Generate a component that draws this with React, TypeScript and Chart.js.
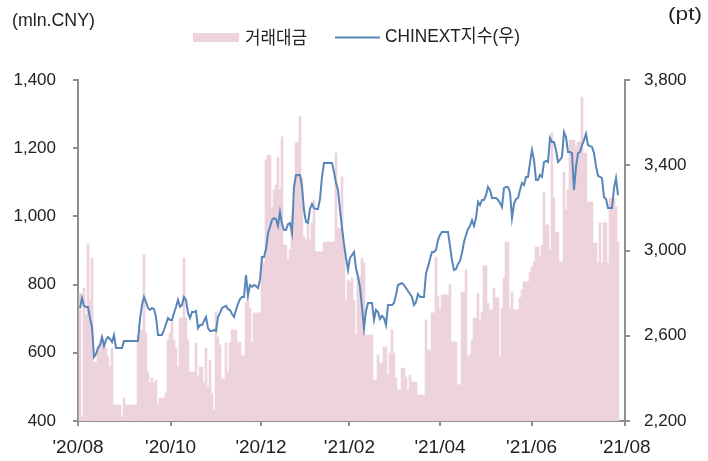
import React, { useEffect, useRef } from "react";
import { Chart, registerables } from "chart.js";

Chart.register(...registerables);

// Daily trading value (mln. CNY), left axis
const turnover: number[] = [
  775, 412, 790, 711, 919, 755, 878, 573, 573, 617,
  623, 646, 623, 614, 588, 558, 614, 447, 447, 447,
  447, 412, 467, 447, 447, 447, 447, 447, 447, 652,
  667, 667, 887, 658, 544, 511, 526, 511, 520, 447,
  467, 467, 467, 482, 638, 658, 696, 638, 614, 558,
  702, 702, 878, 702, 638, 544, 544, 544, 629, 529,
  558, 558, 511, 614, 500, 579, 482, 432, 720, 646,
  623, 523, 523, 629, 544, 629, 667, 667, 667, 629,
  632, 591, 591, 746, 778, 731, 632, 717, 717, 717,
  717, 881, 863, 1166, 1180, 1180, 1025, 1078, 1092, 1174,
  1078, 1233, 916, 916, 872, 902, 1004, 1048, 1215, 1218,
  1292, 1113, 940, 931, 975, 931, 981, 1048, 896, 896,
  896, 896, 925, 925, 925, 925, 925, 925, 1186, 966,
  966, 1116, 916, 755, 814, 808, 819, 755, 652, 822,
  822, 878, 863, 652, 652, 652, 652, 520, 520, 594,
  570, 570, 617, 617, 535, 599, 667, 599, 526, 491,
  491, 555, 555, 529, 491, 535, 514, 514, 514, 476,
  476, 476, 476, 696, 608, 608, 717, 717, 881, 764,
  726, 770, 770, 770, 770, 799, 632, 632, 632, 506,
  506, 778, 778, 843, 588, 594, 638, 702, 702, 775,
  696, 720, 855, 855, 746, 726, 726, 790, 761, 761,
  588, 731, 819, 925, 925, 731, 778, 726, 726, 726,
  761, 784, 808, 808, 808, 837, 852, 866, 910, 910,
  881, 916, 1069, 975, 975, 902, 1245, 1054, 954, 954,
  866, 866, 1130, 1019, 1078, 1224, 1224, 1224, 1204, 1218,
  1218, 1350, 1186, 1186, 1042, 1042, 1042, 922, 922, 863,
  981, 863, 981, 981, 863, 1054, 1054, 1054, 1028, 925,
];

// CHINEXT index (pt), right axis
const chinext: number[] = [
  2730, 2777, 2740, 2735, 2735, 2683, 2641, 2500, 2514, 2543,
  2557, 2594, 2552, 2580, 2594, 2585, 2571, 2603, 2543, 2543,
  2543, 2543, 2575, 2575, 2575, 2575, 2575, 2575, 2575, 2575,
  2679, 2744, 2782, 2758, 2730, 2721, 2730, 2725, 2688, 2603,
  2603, 2603, 2627, 2655, 2683, 2674, 2674, 2707, 2735, 2768,
  2735, 2744, 2782, 2768, 2707, 2683, 2711, 2711, 2716, 2636,
  2650, 2650, 2669, 2688, 2636, 2622, 2622, 2627, 2622, 2688,
  2707, 2730, 2735, 2740, 2725, 2721, 2702, 2688, 2721, 2749,
  2772, 2782, 2782, 2885, 2791, 2838, 2829, 2838, 2833, 2824,
  2862, 2969, 2969, 3007, 3082, 3110, 3143, 3152, 3148, 3115,
  3181, 3124, 3096, 3096, 3124, 3129, 3082, 3298, 3354, 3354,
  3354, 3298, 3190, 3134, 3129, 3195, 3218, 3199, 3195, 3195,
  3242, 3345, 3411, 3411, 3411, 3411, 3411, 3368, 3317, 3284,
  3190, 3106, 3030, 2965, 2908, 2965, 2979, 2993, 2918, 2876,
  2829, 2735, 2636, 2716, 2754, 2754, 2754, 2674, 2721, 2711,
  2679, 2693, 2683, 2650, 2744, 2744, 2744, 2754, 2791, 2838,
  2843, 2847, 2838, 2824, 2810, 2796, 2782, 2744, 2758, 2796,
  2782, 2782, 2782, 2894, 2923, 2960, 2993, 2993, 3002, 3049,
  3073, 3087, 3087, 3087, 3087, 3021, 2955, 2908, 2913, 2937,
  2951, 2988, 3040, 3073, 3101, 3115, 3143, 3115, 3152, 3228,
  3213, 3237, 3237, 3260, 3298, 3284, 3246, 3246, 3246, 3237,
  3223, 3204, 3293, 3298, 3298, 3274, 3152, 3218, 3242, 3246,
  3284, 3317, 3307, 3345, 3345, 3411, 3472, 3425, 3331, 3331,
  3354, 3345, 3415, 3420, 3415, 3528, 3509, 3509, 3472, 3415,
  3425, 3439, 3556, 3533, 3462, 3462, 3457, 3284, 3392, 3457,
  3462, 3495, 3518, 3547, 3495, 3490, 3486, 3457, 3396, 3350,
  3345, 3340, 3251, 3242, 3199, 3199, 3199, 3293, 3340, 3260,
];

// Month tick labels and their position on the sample axis
const tickLabels: string[] = ["'20/08", "'20/10", "'20/12", "'21/02", "'21/04", "'21/06", "'21/08"];
const tickIndex: number[] = [-1, 45.3, 90.5, 134.7, 180, 225.8, 272.5];

const leftTicks = { min: 400, max: 1400, step: 200 };
const rightTicks = { min: 2200, max: 3800, step: 400 };

const seriesNames = ["거래대금", "CHINEXT지수(우)"];
const unitLeft = "(mln.CNY)";
const unitRight = "(pt)";

const FONT = "'Liberation Sans', 'Noto Sans CJK KR', sans-serif";
const KFONT = "'Noto Sans CJK KR', sans-serif";
const PINK = "rgb(237, 211, 219)";
const BLUE = "rgb(88, 134, 184)";
const AXIS = "#8f8f8f";
const TEXT = "#222222";

function fmt(v: number) {
  return v.toLocaleString("en-US");
}

function fitText(ctx: CanvasRenderingContext2D, text: string, x: number, y: number, w: number) {
  const m = ctx.measureText(text).width;
  const s = w / m;
  ctx.save();
  ctx.translate(x, y);
  ctx.scale(s, 1);
  ctx.fillText(text, 0, 0);
  ctx.restore();
}

const overlay = {
  id: "overlay",
  afterDraw(chart: any) {
    const ctx: CanvasRenderingContext2D = chart.ctx;
    ctx.save();
    ctx.fillStyle = TEXT;
    ctx.textBaseline = "middle";
    ctx.textAlign = "left";
    ctx.font = `18px ${FONT}`;
    fitText(ctx, unitLeft, 12, 21, 83);
    fitText(ctx, unitRight, 668, 15, 34);
    // legend
    ctx.fillStyle = PINK;
    ctx.fillRect(193, 33, 46, 9);
    ctx.fillStyle = TEXT;
    ctx.font = `18px ${KFONT}`;
    fitText(ctx, seriesNames[0], 245, 37, 62);
    ctx.strokeStyle = BLUE;
    ctx.lineWidth = 2;
    ctx.beginPath();
    ctx.moveTo(335, 37.5);
    ctx.lineTo(380, 37.5);
    ctx.stroke();
    ctx.font = `18px ${FONT}`;
    fitText(ctx, seriesNames[1], 385, 37, 135);
    ctx.restore();
  },
};

export default function App() {
  const ref = useRef<HTMLCanvasElement | null>(null);
  useEffect(() => {
    if (!ref.current) return;
    const yFont = { family: FONT, size: 17 };
    const xFont = { family: FONT, size: 19 };
    const chart = new Chart(ref.current, {
      type: "bar",
      data: {
        datasets: [
          {
            type: "line",
            label: seriesNames[1],
            data: chinext.map((v, i) => ({ x: i, y: v })),
            yAxisID: "y1",
            borderColor: BLUE,
            borderWidth: 2,
            pointRadius: 0,
            tension: 0,
            fill: false,
            order: 0,
          } as any,
          {
            type: "bar",
            label: seriesNames[0],
            data: turnover.map((v, i) => ({ x: i, y: v })),
            yAxisID: "y",
            backgroundColor: PINK,
            borderWidth: 0,
            barPercentage: 1,
            categoryPercentage: 1,
            order: 1,
          } as any,
        ],
      },
      options: {
        responsive: false,
        animation: false,
        events: [],
        layout: { padding: { top: 80, left: 0, right: 0, bottom: 0 } },
        plugins: { legend: { display: false }, tooltip: { enabled: false } },
        scales: {
          x: {
            type: "linear",
            offset: false,
            min: tickIndex[0],
            max: tickIndex[tickIndex.length - 1],
            afterBuildTicks: (s: any) => {
              s.ticks = tickIndex.map((v) => ({ value: v }));
            },
            afterFit: (s: any) => {
              s.height = 40;
            },
            ticks: {
              autoSkip: false,
              maxRotation: 0,
              padding: 10,
              color: TEXT,
              font: xFont,
              callback: (_v: any, i: number) => tickLabels[i],
            },
            grid: { offset: false, drawOnChartArea: false, drawTicks: true, tickLength: 5, color: AXIS, lineWidth: 2 },
            border: { display: true, color: AXIS, width: 2 },
          },
          y: {
            position: "left",
            min: leftTicks.min,
            max: leftTicks.max,
            afterFit: (s: any) => {
              s.width = 78;
            },
            ticks: { stepSize: leftTicks.step, padding: 17, color: TEXT, font: yFont, callback: (v: any) => fmt(Number(v)) },
            grid: { drawOnChartArea: false, drawTicks: true, tickLength: 5, color: AXIS, lineWidth: 2 },
            border: { display: true, color: AXIS, width: 2 },
          },
          y1: {
            position: "right",
            min: rightTicks.min,
            max: rightTicks.max,
            afterFit: (s: any) => {
              s.width = 83;
            },
            ticks: { stepSize: rightTicks.step, padding: 14, color: TEXT, font: yFont, callback: (v: any) => fmt(Number(v)) },
            grid: { drawOnChartArea: false, drawTicks: true, tickLength: 5, color: AXIS, lineWidth: 2 },
            border: { display: true, color: AXIS, width: 2 },
          },
        },
      } as any,
      plugins: [overlay],
    });
    return () => chart.destroy();
  }, []);
  return (
    <div style={{ position: "fixed", left: 0, top: 0, width: 708, height: 461, background: "#fff" }}>
      <canvas ref={ref} width={708} height={461} style={{ display: "block" }} />
    </div>
  );
}
